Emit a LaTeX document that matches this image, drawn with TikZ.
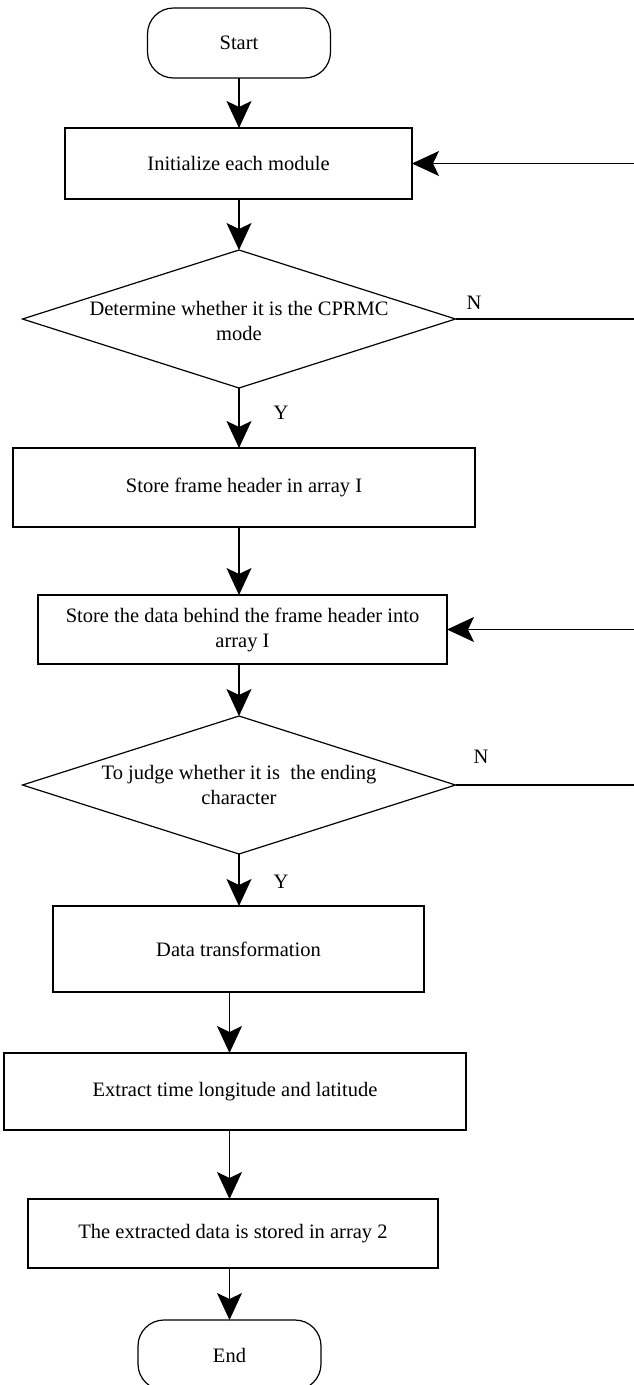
\documentclass[tikz,border=0pt]{standalone}
\usepackage{fontspec}
\setmainfont{Liberation Serif}
\usetikzlibrary{arrows.meta,shapes.geometric}
\begin{document}
\begin{tikzpicture}[x=1pt,y=-1pt,
  every node/.style={font=\fontsize{20.5}{25}\selectfont, outer sep=0pt},
  proc/.style={draw=black, line width=1.2pt, rectangle, inner sep=0pt, align=center},
  term/.style={proc, rounded corners=26pt},
  decision/.style={draw=black, line width=1.2pt, diamond, inner sep=0pt,
                   minimum width=433pt, minimum height=138pt},
  arr/.style={line width=1.2pt, -{Stealth[length=27pt,width=25pt,inset=6pt]}},
  link/.style={line width=1.2pt},
  tag/.style={inner sep=0pt, align=center}]

\clip (0,0) rectangle (634,1385);
\fill[white] (0,0) rectangle (634,1385);

% process steps
\node[term, minimum width=183pt, minimum height=70pt] (start) at (239,43) {Start};
\node[proc, minimum width=347pt, minimum height=71pt] (init) at (238.5,163.5) {Initialize each module};
\node[decision] (d1) at (239,319) {};
\node[tag] (d1t) at (239,320.5) {Determine whether it is the CPRMC\\mode};
\node[proc, minimum width=462pt, minimum height=79pt] (hdr) at (244,487.5) {Store frame header in array I};
\node[proc, minimum width=409pt, minimum height=69pt] (body) at (242.5,629.5) {Store the data behind the frame header into\\array I};
\node[decision] (d2) at (239,785) {};
\node[tag] (d2t) at (239,785) {To judge whether it is~ the ending\\character};
\node[proc, minimum width=371pt, minimum height=86pt] (conv) at (238.5,949) {Data transformation};
\node[proc, minimum width=462pt, minimum height=77pt] (extr) at (235,1091.5) {Extract time longitude and latitude};
\node[proc, minimum width=410pt, minimum height=69pt] (save) at (233,1233.5) {The extracted data is stored in array 2};
\node[term, minimum width=183pt, minimum height=70pt] (end) at (229.5,1355) {End};

% branch labels
\node[tag] (n1) at (474,303) {N};
\node[tag] (y1) at (281,413) {Y};
\node[tag] (n2) at (481,757) {N};
\node[tag] (y2) at (281,882) {Y};

% main flow
\draw[arr] (start.south) -- (start.south |- init.north);
\draw[arr] (start.south |- init.south) -- (d1.north);
\draw[arr] (d1.south) -- (d1.south |- hdr.north);
\draw[arr] (d1.south |- hdr.south) -- (d1.south |- body.north);
\draw[arr] (d1.south |- body.south) -- (d2.north);
\draw[arr] (d2.south) -- (d2.south |- conv.north);
\draw[arr] (end.north |- conv.south) -- (end.north |- extr.north);
\draw[arr] (end.north |- extr.south) -- (end.north |- save.north);
\draw[arr] (end.north |- save.south) -- (end.north);

% return loops on the right
\coordinate (loop1) at (660,319);
\coordinate (loop2) at (660,785);
\draw[arr] (d1.east) -- (loop1) |- (init.east);
\draw[arr] (d2.east) -- (loop2) |- (body.east);
\end{tikzpicture}
\end{document}
